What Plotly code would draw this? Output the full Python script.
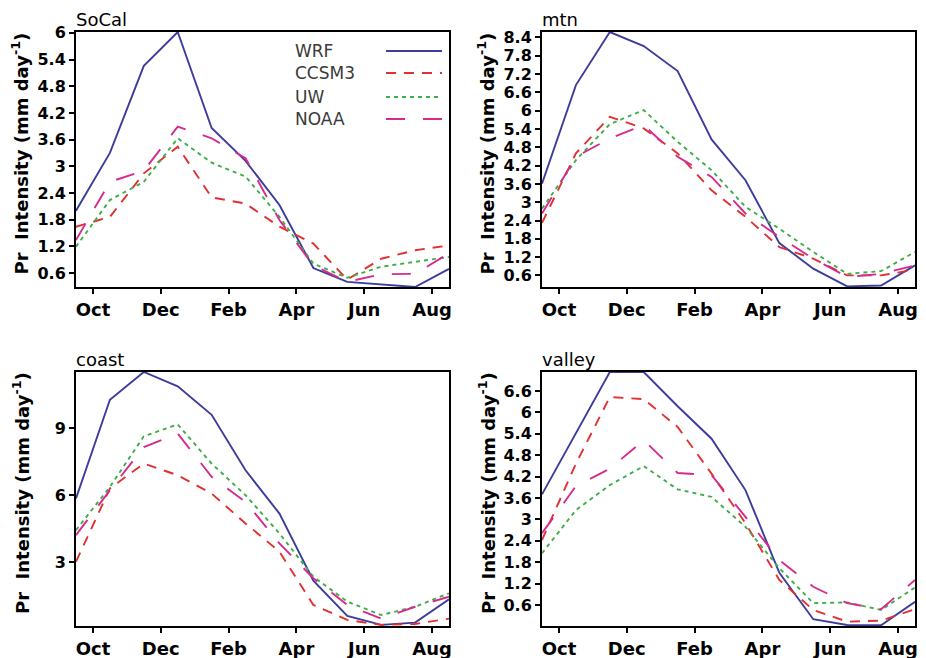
import plotly.graph_objects as go

# page body margin (8px) is compensated by shrinking the figure and shifting coordinates
OFF = 8
W, H = 926 - OFF, 658 - OFF

months_x = list(range(12))  # Sep .. Aug (mid-month)
tick_pos = [0.5, 2.5, 4.5, 6.5, 8.5, 10.5]
tick_labels = ["Oct", "Dec", "Feb", "Apr", "Jun", "Aug"]

series_names = ["WRF", "CCSM3", "UW", "NOAA"]

# SoCal
socal_wrf = [2.0, 3.3, 5.26, 6.02, 3.86, 3.12, 2.13, 0.71, 0.40, 0.34, 0.284, 0.69]
socal_ccsm3 = [1.64, 1.86, 2.84, 3.44, 2.30, 2.16, 1.64, 1.26, 0.45, 0.92, 1.11, 1.22]
socal_uw = [1.19, 2.24, 2.65, 3.63, 3.08, 2.77, 1.86, 0.81, 0.49, 0.74, 0.85, 0.96]
socal_noaa = [1.34, 2.65, 2.90, 3.89, 3.63, 3.18, 1.79, 0.77, 0.40, 0.57, 0.58, 1.04]

# mtn
mtn_wrf = [3.61, 6.84, 8.58, 8.12, 7.30, 5.06, 3.72, 1.66, 0.82, 0.24, 0.27, 0.93]
mtn_ccsm3 = [2.32, 4.60, 5.80, 5.42, 4.60, 3.39, 2.52, 1.53, 1.15, 0.60, 0.60, 0.79]
mtn_uw = [2.79, 4.38, 5.56, 6.02, 4.98, 4.05, 2.85, 2.13, 1.37, 0.65, 0.74, 1.37]
mtn_noaa = [2.63, 4.49, 5.09, 5.53, 4.49, 3.83, 2.63, 1.86, 1.15, 0.55, 0.65, 0.93]

# coast
coast_wrf = [5.85, 10.26, 11.5, 10.86, 9.59, 7.11, 5.18, 2.18, 0.61, 0.21, 0.31, 1.35]
coast_ccsm3 = [3.03, 6.30, 7.41, 6.89, 6.07, 4.74, 3.48, 1.10, 0.43, 0.21, 0.25, 0.49]
coast_uw = [4.44, 6.37, 8.63, 9.16, 7.41, 6.00, 4.29, 2.36, 1.25, 0.65, 1.02, 1.62]
coast_noaa = [4.22, 6.22, 8.15, 8.75, 6.82, 5.70, 3.85, 2.29, 1.10, 0.49, 1.02, 1.47]

# valley
valley_wrf = [3.70, 5.40, 7.13, 7.13, 6.17, 5.26, 3.82, 1.50, 0.20, 0.04, 0.03, 0.69]
valley_ccsm3 = [2.42, 4.56, 6.43, 6.37, 5.59, 4.28, 2.89, 1.30, 0.46, 0.13, 0.16, 0.48]
valley_uw = [2.05, 3.26, 3.96, 4.49, 3.84, 3.63, 2.79, 1.63, 0.65, 0.67, 0.46, 1.09]
valley_noaa = [2.61, 3.93, 4.42, 5.22, 4.30, 4.24, 3.07, 1.86, 1.11, 0.65, 0.48, 1.30]

socal_ticks = ["0.6", "1.2", "1.8", "2.4", "3", "3.6", "4.2", "4.8", "5.4", "6"]
mtn_ticks = ["0.6", "1.2", "1.8", "2.4", "3", "3.6", "4.2", "4.8", "5.4", "6",
             "6.6", "7.2", "7.8", "8.4"]
coast_ticks = ["3", "6", "9"]
valley_ticks = ["0.6", "1.2", "1.8", "2.4", "3", "3.6", "4.2", "4.8", "5.4", "6", "6.6"]

panel_titles = ["SoCal", "mtn", "coast", "valley"]
panels = [
    (socal_wrf, socal_ccsm3, socal_uw, socal_noaa),
    (mtn_wrf, mtn_ccsm3, mtn_uw, mtn_noaa),
    (coast_wrf, coast_ccsm3, coast_uw, coast_noaa),
    (valley_wrf, valley_ccsm3, valley_uw, valley_noaa),
]
panel_ticks = [socal_ticks, mtn_ticks, coast_ticks, valley_ticks]
panel_yrange = [(0.284, 6.02), (0.22, 8.58), (0.16, 11.5), (0.01, 7.13)]

colors = ["#3c3c9c", "#e0302f", "#3fae49", "#d62a8e"]
dashes = ["solid", "10px,8px", "4px,4px", "19px,18px"]
LW = 1.9

# plot boxes in reference pixels (left, right, top, bottom)
px_boxes = [(76, 449, 32, 287), (542, 915, 32, 287), (76, 449, 372, 626), (542, 915, 372, 626)]

FONT = "DejaVu Sans"


def px(xp):
    return (xp - OFF) / W


def py(yp):
    return 1 - (yp - OFF) / H


fig = go.Figure()
layout = dict(
    width=W, height=H,
    margin=dict(l=0, r=0, t=0, b=0),
    paper_bgcolor="white", plot_bgcolor="white",
    showlegend=False,
    font=dict(family=FONT, color="black"),
)
annotations = []
shapes = []

for i, (vals, ticks, yr, box, title) in enumerate(
        zip(panels, panel_ticks, panel_yrange, px_boxes, panel_titles)):
    xa = "x" if i == 0 else f"x{i+1}"
    ya = "y" if i == 0 else f"y{i+1}"
    for s, v in enumerate(vals):
        fig.add_trace(go.Scatter(
            x=months_x, y=v, mode="lines", name=series_names[s],
            line=dict(color=colors[s], dash=dashes[s], width=LW),
            xaxis=xa, yaxis=ya,
        ))
    l, r, t, b = box
    xkey = "xaxis" if i == 0 else f"xaxis{i+1}"
    ykey = "yaxis" if i == 0 else f"yaxis{i+1}"
    layout[xkey] = dict(
        domain=[px(l), px(r)], anchor=ya, range=[0, 11],
        tickmode="array", tickvals=tick_pos, ticktext=tick_labels,
        ticks="outside", ticklen=5, tickwidth=1.5, tickcolor="black",
        showline=True, linecolor="black", linewidth=2, mirror=True,
        showgrid=False, zeroline=False, automargin=False,
        tickfont=dict(family=FONT, size=18, color="black", weight="bold"),
    )
    layout[ykey] = dict(
        domain=[py(b), py(t)], anchor=xa, range=list(yr),
        tickmode="array", tickvals=[float(tk) for tk in ticks], ticktext=ticks,
        ticks="outside", ticklen=5, tickwidth=1.5, tickcolor="black",
        showline=True, linecolor="black", linewidth=2, mirror=True,
        showgrid=False, zeroline=False, automargin=False,
        tickfont=dict(family=FONT, size=16, color="black", weight="bold"),
    )
    annotations.append(dict(
        text=title, xref="paper", yref="paper",
        x=px(l - 2), y=py(t - 13), xanchor="left", yanchor="middle",
        showarrow=False, font=dict(family=FONT, size=18, color="black"),
    ))
    annotations.append(dict(
        text="Pr  Intensity (mm day<sup>-1</sup>)", xref="paper", yref="paper",
        x=px(l - 55), y=py((t + b) / 2 - 6), xanchor="center", yanchor="middle",
        textangle=-90, showarrow=False,
        font=dict(family=FONT, size=18, color="black", weight="bold"),
    ))

# custom legend inside the SoCal panel (label left, line sample right)
leg_y = [51, 73, 97, 119]
for s, name in enumerate(series_names):
    annotations.append(dict(
        text=name, xref="paper", yref="paper",
        x=px(293), y=py(leg_y[s]), xanchor="left", yanchor="middle",
        showarrow=False, font=dict(family=FONT, size=17, color="#3a3a3a"),
    ))
    shapes.append(dict(
        type="line", xref="paper", yref="paper",
        x0=px(386), x1=px(442), y0=py(leg_y[s]), y1=py(leg_y[s]),
        line=dict(color=colors[s], dash=dashes[s], width=LW),
    ))

layout["annotations"] = annotations
layout["shapes"] = shapes
fig.update_layout(**layout)
fig.write_html("out.html")
